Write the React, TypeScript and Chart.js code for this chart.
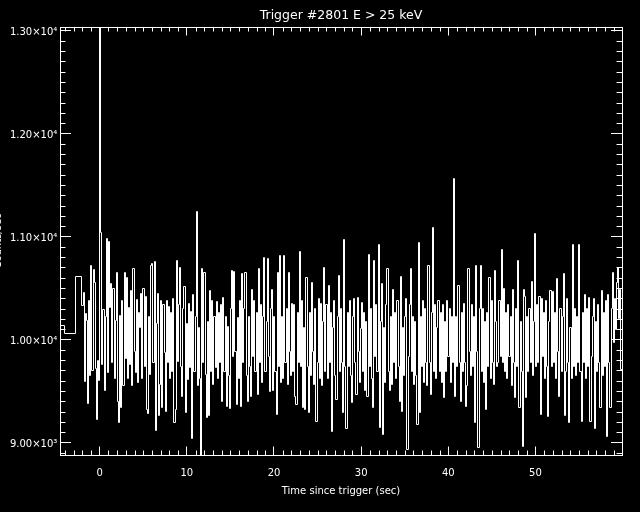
import React, { useEffect, useRef } from "react";
import { Chart, registerables } from "chart.js";

Chart.register(...registerables);

const TITLE = "Trigger #2801 E > 25 keV";
const X_TITLE = "Time since trigger (sec)";
const Y_TITLE = "Counts/sec";

// coarse (pre-trigger) bins: start times (s) and rates (counts/sec)
const coarseTimes = [-4.52, -4.1, -2.79];
const coarseCounts = [10140, 10058, 10614];

// fine-resolution bins
const FINE_START = -2.044;
const BIN_WIDTH = 0.1273;
const fineCounts = [
  10330, 10460, 9590, 10250, 10180, 9380, 10380, 9650, 10720, 9700, 10680, 10550, 9720, 9220, 9800, 9600, 13400, 11040, 9760, 10290,
  9500, 10220, 10980, 9680, 10950, 10310, 10540, 9780, 10500, 9620, 10180, 10650, 9400, 9190, 10230, 9340, 10380, 9550, 10650, 9820,
  10600, 9620, 10310, 9760, 10480, 9550, 10690, 9880, 9680, 10390, 9580, 10260, 10120, 10450, 9620, 10500, 9740, 10420, 9320, 9280,
  10220, 9660, 10720, 10740, 9780, 10760, 9120, 10160, 10450, 9260, 9560, 10380, 9340, 10340, 9870, 9300, 10380, 9780, 10320, 9620,
  10260, 9690, 10400, 9190, 9320, 10770, 9790, 10340, 10700, 9740, 9450, 10300, 10510, 9290, 10160, 9610, 10350, 9730, 10270, 9035,
  10440, 9690, 10220, 11240, 9550, 10120, 9620, 8800, 10690, 9780, 10650, 9660, 9240, 10170, 9260, 10480, 9690, 10380, 9560, 10220,
  9730, 10370, 9620, 10260, 9780, 10340, 9400, 10410, 9690, 10220, 9350, 10130, 9650, 9330, 10300, 10670, 9830, 10660, 9880, 9370,
  10210, 9620, 10380, 9350, 10640, 9780, 10300, 10650, 9650, 9400, 10220, 9740, 9450, 10490, 9830, 10380, 9690, 10260, 9470, 10690,
  9780, 10340, 9580, 10220, 10800, 9690, 10170, 10790, 9830, 9490, 10300, 10490, 9500, 10220, 9690, 9270, 10650, 9740, 10820, 9580,
  10220, 9620, 10820, 9780, 10300, 9560, 10650, 9880, 9650, 10350, 9690, 10340, 9450, 9370, 10260, 9780, 10850, 9740, 10380, 9340,
  10120, 9320, 10600, 9740, 9290, 10260, 9650, 10550, 9880, 9560, 10300, 9200, 9780, 10400, 9620, 10350, 9550, 10170, 10700, 9690,
  10340, 9620, 10520, 9780, 10260, 9110, 10120, 10380, 9650, 9420, 10220, 10620, 9690, 10300, 9780, 9290, 10970, 9740, 9140, 10260,
  9740, 10380, 9650, 9390, 10220, 10400, 9780, 9470, 10410, 9880, 9580, 10110, 10360, 9690, 10260, 9500, 10170, 9450, 10830, 9740,
  10300, 9620, 9340, 10770, 9830, 10340, 9690, 10920, 9145, 10170, 10540, 9080, 10120, 9580, 10340, 10690, 9690, 9500, 10220, 9560,
  10490, 9780, 10260, 9620, 10380, 9740, 9400, 10610, 9300, 10120, 9650, 10220, 10400, 8930, 9830, 10340, 10690, 9690, 10220, 9560,
  10170, 9650, 9175, 10945, 9290, 10220, 9740, 10380, 9580, 10300, 9780, 9550, 10720, 9780, 9470, 10260, 11085, 9690, 10340, 9620,
  10120, 10380, 9690, 10260, 9580, 10340, 9440, 10170, 9690, 10380, 9830, 10300, 9580, 10220, 9780, 11560, 9450, 10220, 9740, 10520,
  9780, 9400, 10260, 9690, 10350, 9780, 9350, 9550, 10690, 9880, 9650, 10340, 9740, 10220, 9190, 10720, 9880, 8955, 10300, 10720,
  9690, 10300, 9580, 10170, 9320, 10260, 9740, 10600, 9620, 10380, 9780, 9560, 10670, 10170, 9740, 9780, 10380, 9830, 10870, 9780,
  10500, 9690, 10260, 9620, 10340, 9830, 10220, 9550, 10490, 9780, 9435, 10300, 9740, 10770, 9340, 10170, 9690, 8965, 10490, 10420,
  9435, 10220, 9690, 10300, 9780, 10560, 9650, 10170, 11025, 9740, 10340, 9780, 10420, 9270, 10400, 9830, 10260, 9620, 10380, 9740,
  9256, 10170, 10480, 9740, 10470, 9780, 10260, 9620, 10590, 9880, 9450, 10300, 9690, 10220, 10640, 9260, 9690, 10400, 9780, 9190,
  10120, 9620, 10920, 9740, 10300, 9650, 10220, 9780, 10920, 9690, 9200, 10260, 9780, 10440, 9620, 10300, 9740, 10410, 9200, 9830,
  10220, 10400, 9140, 10170, 9690, 10340, 9780, 9340, 10480, 9650, 10260, 9740, 10380, 9060, 10440, 9780, 9340, 10300, 10650, 9970,
  10400, 10100, 10550, 10700, 10200, 10490, 9710, 10300, 10150,
];

const xTickValues = [0, 10, 20, 30, 40, 50];
const xTickLabels = ["0", "10", "20", "30", "40", "50"];
const yTickValues = [9000, 10000, 11000, 12000, 13000];
const yTickLabels = ["9.00×10³", "1.00×10⁴", "1.10×10⁴", "1.20×10⁴", "1.30×10⁴"];

const X_MIN = -4.56;
const X_MAX = 59.94;
const Y_MIN = 8878;
const Y_MAX = 13035;
const X_MINOR_STEP = 1;
const Y_MINOR_STEP = 100;

const FONT_FAMILY = "'DejaVu Sans', sans-serif";
const WHITE = "#ffffff";

// snap the line's vertices to pixel centres so the 1px strokes stay crisp white
const crispLine = {
  id: "crispLine",
  afterDatasetsUpdate(chart: any) {
    chart.getSortedVisibleDatasetMetas().forEach((meta: any) => {
      meta.data.forEach((p: any) => {
        p.x = Math.floor(p.x) + 0.5;
        p.y = Math.floor(p.y) + 0.5;
      });
    });
  },
};

const minorTicks = {
  id: "minorTicks",
  afterDraw(chart: any) {
    const { ctx, chartArea: a, scales } = chart;
    const xs = scales.x;
    const ys = scales.y;
    ctx.save();
    ctx.strokeStyle = WHITE;
    ctx.lineWidth = 1;
    ctx.beginPath();
    for (let t = Math.ceil(X_MIN); t <= X_MAX; t += X_MINOR_STEP) {
      if (xTickValues.includes(t)) continue;
      const px = Math.round(xs.getPixelForValue(t)) + 0.5;
      ctx.moveTo(px, a.bottom);
      ctx.lineTo(px, a.bottom - 4.5);
      ctx.moveTo(px, a.top);
      ctx.lineTo(px, a.top + 4.5);
    }
    for (let v = Math.ceil(Y_MIN / Y_MINOR_STEP) * Y_MINOR_STEP; v <= Y_MAX; v += Y_MINOR_STEP) {
      if (yTickValues.includes(v)) continue;
      const py = Math.round(ys.getPixelForValue(v)) + 0.5;
      ctx.moveTo(a.left, py);
      ctx.lineTo(a.left + 5.5, py);
      ctx.moveTo(a.right, py);
      ctx.lineTo(a.right - 5.5, py);
    }
    ctx.stroke();
    ctx.restore();
  },
};

export default function App() {
  const ref = useRef<HTMLCanvasElement>(null);

  useEffect(() => {
    const points: { x: number; y: number }[] = [];
    coarseTimes.forEach((t, i) => points.push({ x: t, y: coarseCounts[i] }));
    fineCounts.forEach((v, i) => points.push({ x: FINE_START + i * BIN_WIDTH, y: v }));

    const labelFont = { family: FONT_FAMILY, size: 10 };
    const border = { display: true, color: WHITE, width: 1 };
    const xGrid = { drawOnChartArea: false, drawTicks: true, tickLength: -8.5, color: WHITE, lineWidth: 1 };
    const yGrid = { drawOnChartArea: false, drawTicks: true, tickLength: -11, color: WHITE, lineWidth: 1 };
    const setX = (s: any) => {
      s.ticks = xTickValues.map((v) => ({ value: v }));
    };
    const setY = (s: any) => {
      s.ticks = yTickValues.map((v) => ({ value: v }));
    };

    const chart = new Chart(ref.current as HTMLCanvasElement, {
      type: "line",
      data: {
        datasets: [
          {
            data: points,
            xAxisID: "x",
            yAxisID: "y",
            borderColor: WHITE,
            borderWidth: 1,
            pointRadius: 0,
            stepped: "before",
            fill: false,
            tension: 0,
          },
        ],
      },
      options: {
        responsive: false,
        animation: false,
        devicePixelRatio: 1,
        events: [],
        layout: { padding: 0, autoPadding: false },
        plugins: {
          legend: { display: false },
          tooltip: { enabled: false },
          title: {
            display: true,
            text: TITLE,
            color: WHITE,
            fullSize: false,
            font: { family: FONT_FAMILY, size: 12.5, weight: "normal" },
            padding: { top: 8.5, bottom: 3.5 },
          },
        },
        scales: {
          x: {
            type: "linear",
            position: "bottom",
            min: X_MIN,
            max: X_MAX,
            afterBuildTicks: setX,
            afterFit: (s: any) => {
              s.height = 57;
            },
            ticks: {
              color: WHITE,
              font: labelFont,
              padding: 21,
              maxRotation: 0,
              autoSkip: false,
              callback: (v: any) => xTickLabels[xTickValues.indexOf(Number(v))] ?? "",
            },
            grid: xGrid,
            border,
            title: {
              display: true,
              text: X_TITLE,
              color: WHITE,
              font: labelFont,
              padding: { top: 0, bottom: 15 },
            },
          },
          x2: {
            type: "linear",
            position: "top",
            min: X_MIN,
            max: X_MAX,
            afterBuildTicks: setX,
            afterFit: (s: any) => {
              s.height = 0;
            },
            ticks: { display: false },
            grid: xGrid,
            border,
          },
          y: {
            type: "linear",
            position: "left",
            min: Y_MIN,
            max: Y_MAX,
            afterBuildTicks: setY,
            afterFit: (s: any) => {
              s.width = 60;
            },
            ticks: {
              color: WHITE,
              font: labelFont,
              padding: 13.7,
              labelOffset: 1.5,
              autoSkip: false,
              callback: (v: any) => yTickLabels[yTickValues.indexOf(Number(v))] ?? "",
            },
            grid: yGrid,
            border,
            title: {
              display: true,
              text: Y_TITLE,
              color: WHITE,
              font: labelFont,
              padding: { top: -7.3, bottom: 0 },
            },
          },
          y2: {
            type: "linear",
            position: "right",
            min: Y_MIN,
            max: Y_MAX,
            afterBuildTicks: setY,
            afterFit: (s: any) => {
              s.width = 18;
            },
            ticks: { display: false },
            grid: yGrid,
            border,
          },
        },
      } as any,
      plugins: [crispLine, minorTicks],
    });

    return () => chart.destroy();
  }, []);

  return (
    <div
      style={{
        position: "fixed",
        left: 0,
        top: 0,
        width: 640,
        height: 512,
        background: "#000",
        overflow: "hidden",
      }}
    >
      <canvas ref={ref} width={640} height={512} style={{ display: "block", width: 640, height: 512 }} />
    </div>
  );
}
